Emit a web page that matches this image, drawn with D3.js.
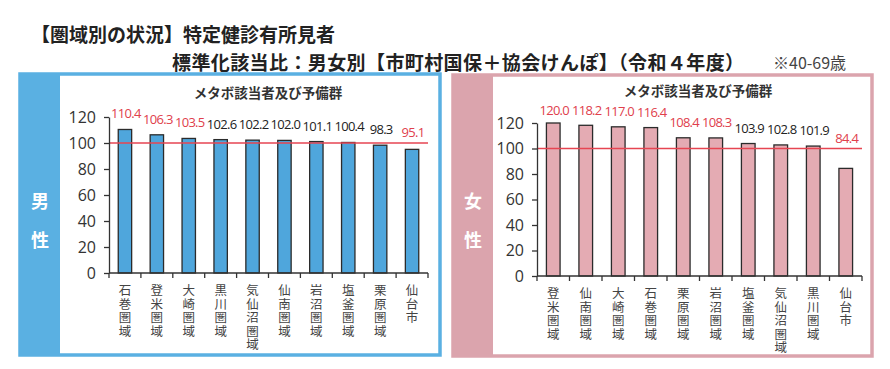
<!DOCTYPE html>
<html><head><meta charset="utf-8">
<script src="https://cdn.jsdelivr.net/npm/d3@7/dist/d3.min.js"></script>
<style>
html,body{margin:0;padding:0;background:#fff;}
svg{display:block;}
</style></head>
<body>
<svg id="chart" width="890" height="369"></svg>
<script>
// ---- data ----
const titleLine1 = "【圏域別の状況】特定健診有所見者";
const titleLine2 = "標準化該当比：男女別【市町村国保＋協会けんぽ】（令和４年度）";
const ageNote = "※40-69歳";
const chartTitle = "メタボ該当者及び予備群";
const yTicks = [0, 20, 40, 60, 80, 100, 120];
const refValue = 100;

const maleCategories = ["石巻圏域", "登米圏域", "大崎圏域", "黒川圏域", "気仙沼圏域", "仙南圏域", "岩沼圏域", "塩釜圏域", "栗原圏域", "仙台市"];
const maleValues = [110.4, 106.3, 103.5, 102.6, 102.2, 102.0, 101.1, 100.4, 98.3, 95.1];
const maleSignificant = [true, true, true, false, false, false, false, false, false, true];

const femaleCategories = ["登米圏域", "仙南圏域", "大崎圏域", "石巻圏域", "栗原圏域", "岩沼圏域", "塩釜圏域", "気仙沼圏域", "黒川圏域", "仙台市"];
const femaleValues = [120.0, 118.2, 117.0, 116.4, 108.4, 108.3, 103.9, 102.8, 101.9, 84.4];
const femaleSignificant = [true, true, true, true, true, true, false, false, false, true];

// ---- drawing ----
const svg = d3.select("#chart");
const JP = "'Noto Sans CJK JP','Noto Sans',sans-serif";
const NUM = "'Open Sans','Noto Sans',sans-serif";

svg.append("text").attr("x", 31).attr("y", 42)
  .attr("font-family", JP).attr("font-weight", "bold").attr("font-size", 19)
  .attr("fill", "#222").text(titleLine1);
svg.append("text").attr("x", 172).attr("y", 70)
  .attr("font-family", JP).attr("font-weight", "bold").attr("font-size", 19)
  .attr("letter-spacing", 0.4)
  .attr("fill", "#222").text(titleLine2);
svg.append("text").attr("x", 773).attr("y", 69)
  .attr("font-family", JP).attr("font-size", 16)
  .attr("fill", "#444").text(ageNote);

function drawPanel(cfg) {
  const g = svg.append("g");
  // frame
  g.append("rect").attr("x", cfg.x0).attr("y", cfg.y0).attr("width", cfg.w).attr("height", cfg.h)
    .attr("fill", "#fff").attr("stroke", cfg.frame).attr("stroke-width", 3.5);
  g.append("rect").attr("x", cfg.x0).attr("y", cfg.y0).attr("width", cfg.strip).attr("height", cfg.h)
    .attr("fill", cfg.frame);
  cfg.side.forEach((ch, i) => {
    g.append("text").attr("x", cfg.x0 + cfg.strip / 2).attr("y", cfg.sideY[i])
      .attr("text-anchor", "middle").attr("font-family", JP).attr("font-weight", "bold")
      .attr("font-size", 18).attr("fill", "#fff").text(ch);
  });

  const x = d3.scaleBand().domain(cfg.cats).range([cfg.left, cfg.right]).paddingInner(0).paddingOuter(0);
  const y = d3.scaleLinear().domain([0, 120]).range([cfg.bottom, cfg.top]);

  // chart title
  g.append("text").attr("x", cfg.titleX).attr("y", cfg.titleY).attr("text-anchor", "middle")
    .attr("font-family", JP).attr("font-weight", "bold").attr("font-size", 13.5)
    .attr("fill", "#333").text(chartTitle);

  // bars
  const bw = x.bandwidth() * 0.42;
  g.selectAll("rect.bar").data(cfg.values).enter().append("rect").attr("class", "bar")
    .attr("x", (d, i) => x(cfg.cats[i]) + (x.bandwidth() - bw) / 2)
    .attr("y", d => y(d)).attr("width", bw).attr("height", d => y(0) - y(d))
    .attr("fill", cfg.barFill).attr("stroke", "#2b2b2b").attr("stroke-width", 1.3);

  // reference line
  g.append("line").attr("x1", cfg.left).attr("x2", cfg.right)
    .attr("y1", y(refValue)).attr("y2", y(refValue))
    .attr("stroke", "#e64552").attr("stroke-width", 1.6);

  // y axis
  const ya = g.append("g").attr("transform", `translate(${cfg.left},0)`)
    .call(d3.axisLeft(y).tickValues(yTicks).tickSize(5).tickPadding(8).tickSizeOuter(0));
  ya.select(".domain").attr("stroke", "#333").attr("stroke-width", 1.3);
  ya.selectAll(".tick line").attr("stroke", "#333").attr("stroke-width", 1.3);
  ya.selectAll(".tick text").attr("font-family", NUM).attr("font-size", 16).attr("fill", "#333");

  // x axis with boundary ticks
  const xa = g.append("g").attr("transform", `translate(0,${y(0)})`);
  xa.append("line").attr("x1", cfg.left).attr("x2", cfg.right).attr("y1", 0).attr("y2", 0)
    .attr("stroke", "#333").attr("stroke-width", 1.3);
  const bounds = cfg.cats.map(c => x(c)).concat([cfg.right]);
  xa.selectAll("line.bt").data(bounds).enter().append("line").attr("class", "bt")
    .attr("x1", d => d).attr("x2", d => d).attr("y1", 0).attr("y2", 5)
    .attr("stroke", "#333").attr("stroke-width", 1.3);
  // vertical category labels
  xa.selectAll("text.cat").data(cfg.cats).enter().append("text").attr("class", "cat")
    .attr("x", c => x(c) + x.bandwidth() / 2).attr("y", 11)
    .style("writing-mode", "vertical-rl").style("text-orientation", "upright")
    .attr("letter-spacing", 1)
    .attr("font-family", JP).attr("font-size", 12.5).attr("fill", "#444")
    .text(c => c);

  // value labels
  g.selectAll("text.val").data(cfg.values).enter().append("text").attr("class", "val")
    .attr("x", (d, i) => x(cfg.cats[i]) + x.bandwidth() / 2 + 1)
    .attr("y", d => Math.max(y(Math.max(d, 96)) - 11, y(126)))
    .attr("text-anchor", "middle").attr("font-family", NUM).attr("font-size", 13)
    .attr("letter-spacing", -0.7)
    .attr("fill", (d, i) => cfg.sig[i] ? "#e0404c" : "#222")
    .text(d => d.toFixed(1));
}

drawPanel({
  x0: 20, y0: 74, w: 420, h: 281, strip: 40, frame: "#5ab0e2",
  side: ["男", "性"], sideY: [208, 247],
  cats: maleCategories, values: maleValues, sig: maleSignificant,
  left: 109, right: 428, top: 117, bottom: 273,
  titleX: 268, titleY: 98, barFill: "#4fa6dc"
});
drawPanel({
  x0: 453, y0: 75, w: 419, h: 281, strip: 40, frame: "#dba4ad",
  side: ["女", "性"], sideY: [208, 247],
  cats: femaleCategories, values: femaleValues, sig: femaleSignificant,
  left: 537, right: 862, top: 123, bottom: 276,
  titleX: 698, titleY: 96, barFill: "#e4abb3"
});
</script>
</body></html>
